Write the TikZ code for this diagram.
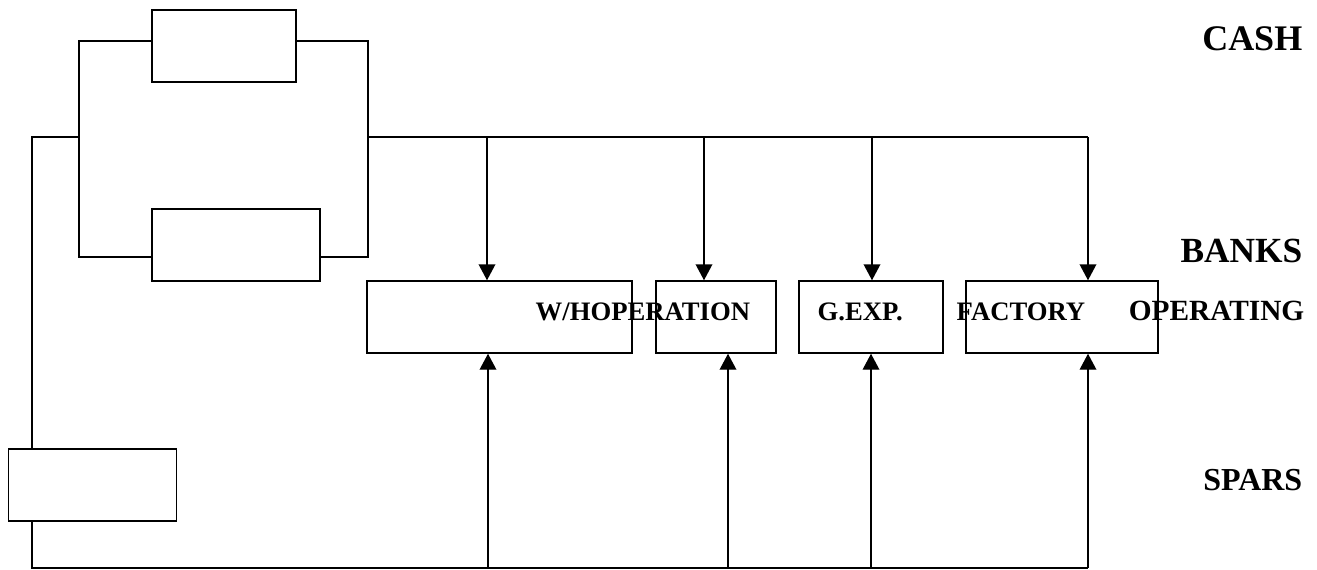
\documentclass[tikz,border=0pt]{standalone}
\usepackage{fontspec}
\setmainfont{Liberation Serif}
\usetikzlibrary{arrows.meta}

\tikzset{every picture/.style={line width=1.1pt}}
\tikzset{
  blk/.style={draw, inner sep=0pt, minimum height=54pt},
  flow/.style={-{Triangle[length=12pt,width=12.5pt]}},
  rowtxt/.style={inner sep=0pt, anchor=base west, font=\fontsize{20}{24}\selectfont\bfseries},
  sidetxt/.style={inner sep=0pt, anchor=base east, font=\fontsize{#1}{#1}\selectfont\bfseries}
}

\begin{document}
\begin{tikzpicture}[x=0.75pt,y=0.75pt,yscale=-1,xscale=1]
\useasboundingbox (0,0) rectangle (1317,569);

%Rect boxes
\node [blk, minimum width=108pt] (cashA) at (224,46) {};
\node [blk, minimum width=126pt] (cashB) at (236,245) {};
\node [blk, minimum width=126pt] (spars) at (92.5,485) {};
\node [blk, minimum width=198.75pt] (op1) at (499.5,317) {};
\node [blk, minimum width=90pt] (op2) at (716,317) {};
\node [blk, minimum width=108pt] (op3) at (871,317) {};
\node [blk, minimum width=144pt] (op4) at (1062,317) {};

%Junctions
\coordinate (jl) at (79,137);
\coordinate (jr) at (368,137);
\coordinate (ls) at (32,137);
\coordinate (tr) at (1088,137);
\coordinate (bb) at (32,568);
\coordinate (br) at (1088,568);

%Straight Lines
\draw ([yshift=-3.75pt]cashA.west) -| (jl) |- ([yshift=9pt]cashB.west);
\draw ([yshift=-3.75pt]cashA.east) -| (jr) |- ([yshift=9pt]cashB.east);
\draw (jl) -- (ls) -- (ls |- spars.north);
\draw (ls |- spars.south) -- (bb) -- (br);
\draw (jr) -- (tr);

%Arrows down
\foreach \n/\x in {op1/487,op2/704,op3/872,op4/1088}
  \draw [flow] (\x,137) -- (\x,137 |- \n.north);
%Arrows up
\foreach \n/\x in {op1/488,op2/728,op3/871,op4/1088}
  \draw [flow] (\x,568) -- (\x,568 |- \n.south);

% Text Node
\node [sidetxt=27pt] (cash) at (1303,50) {CASH};
% Text Node
\node [sidetxt=26.5pt] (banks) at (1303,262) {BANKS};
% Text Node
\node [sidetxt=24pt] (spars-t) at (1303,490) {SPARS};
% Text Node
\node [rowtxt] (whop) at (535,320) {W/HOPERATION};
% Text Node
\node [rowtxt] (gexp) at (817,320) {G.EXP.};
% Text Node
\node [rowtxt] (fact) at (956,320) {FACTORY};
% Text Node
\node [sidetxt=22pt] (oper) at (1305,320) {OPERATING};

\end{tikzpicture}
\end{document}
